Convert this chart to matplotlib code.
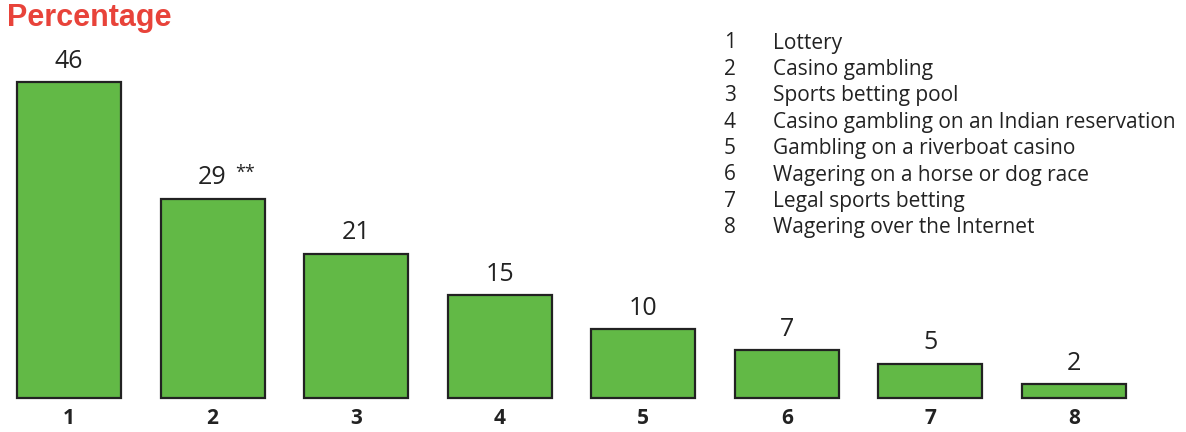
import matplotlib
matplotlib.use("Agg")
import matplotlib.pyplot as plt

# ==========================================
# DATA
# ==========================================
categories = ["1", "2", "3", "4", "5", "6", "7", "8"]
values = [46, 29, 21, 15, 10, 7, 5, 2]
value_labels = ["46", "29", "21", "15", "10", "7", "5", "2"]
notes = ["", "**", "", "", "", "", "", ""]
legend_items = [
    "Lottery",
    "Casino gambling",
    "Sports betting pool",
    "Casino gambling on an Indian reservation",
    "Gambling on a riverboat casino",
    "Wagering on a horse or dog race",
    "Legal sports betting",
    "Wagering over the Internet",
]

W, H = 1186, 432
fig = plt.figure(figsize=(W / 100, H / 100), dpi=100)

# axes placed in pixel terms: bars span x 17..1126, baseline y 398, top of 46 at y 82
ax = fig.add_axes([17 / W, (H - 398) / H, 1109 / W, 316 / H])
x = list(range(len(values)))
ax.bar(x, values, width=0.724, color="#62B946", edgecolor="#222222",
       linewidth=1.6, clip_on=False)
ax.set_xlim(-0.362, 7.362)
ax.set_ylim(0, 46)

for xi, v, lab, n in zip(x, values, value_labels, notes):
    ax.annotate(lab, (xi, v), xytext=(0, 6), textcoords="offset points",
                ha="center", va="bottom", fontsize=18, family="Open Sans",
                color="#222222", annotation_clip=False)
    if n:
        ax.annotate(n, (xi, v), xytext=(16, 12), textcoords="offset points",
                    ha="left", va="bottom", fontsize=13, family="Open Sans",
                    color="#222222", annotation_clip=False)

ax.set_xticks(x)
ax.set_xticklabels(categories, fontsize=15, fontweight="bold",
                   family="Open Sans", color="#222222")
ax.tick_params(axis="x", length=0, pad=7)
ax.set_yticks([])
for s in ax.spines.values():
    s.set_visible(False)

# title
fig.text(7 / W, 1 - 18 / H, "Percentage", fontsize=22, fontweight="bold",
         family="Liberation Sans", color="#E8433A", va="center", ha="left")

# legend list
for i, item in enumerate(legend_items):
    yy = 1 - (43 + i * 26.4) / H
    fig.text(730 / W, yy, str(i + 1), fontsize=15, family="Open Sans",
             color="#222222", ha="center", va="center")
    fig.text(773 / W, yy, item, fontsize=15, family="Open Sans",
             color="#222222", ha="left", va="center")

fig.savefig("out.png", dpi=100)
